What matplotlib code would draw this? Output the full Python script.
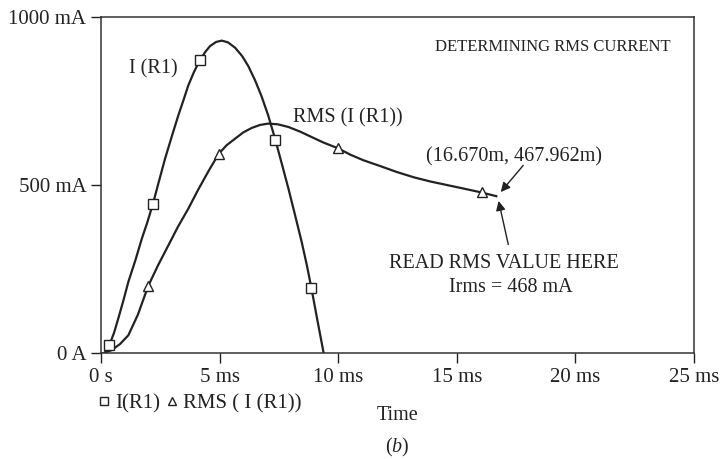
import matplotlib
matplotlib.use("Agg")
import matplotlib.pyplot as plt
from matplotlib.lines import Line2D

plt.rcParams['font.family'] = ['Liberation Serif', 'DejaVu Serif']
plt.rcParams['mathtext.fontset'] = 'custom'
plt.rcParams['mathtext.rm'] = 'Liberation Serif'
plt.rcParams['mathtext.it'] = 'Liberation Serif:italic'

# valores (tiempo en ms, corriente en mA)
t_i = [0.17, 0.35, 0.55, 0.75, 0.95, 1.15, 1.45, 1.72, 1.95, 2.19, 2.45, 2.70,
       3.00, 3.26, 3.48, 3.68, 3.92, 4.16, 4.40, 4.60, 4.85, 5.09, 5.35, 5.65,
       5.95, 6.21, 6.50, 6.77, 7.05, 7.35, 7.62, 7.90, 8.18, 8.46, 8.68, 8.87,
       9.12, 9.39]
i_r1 = [3, 25, 62, 110, 160, 213, 278, 342, 390, 446, 515, 580,
        650, 709, 755, 798, 838, 872, 898, 915, 927, 931, 926, 910,
        885, 855, 812, 765, 708, 636, 565, 491, 412, 332, 262, 195,
        100, 0]
t_i_mark = [0.35, 2.19, 4.16, 7.35, 8.87]
i_mark = [25, 446, 872, 636, 195]

t_rms = [0.1, 0.45, 0.8, 1.15, 1.55, 1.99, 2.4, 2.84, 3.25, 3.68, 4.1, 4.55,
         4.97, 5.3, 5.65, 6.0, 6.35, 6.7, 7.05, 7.45, 7.90, 8.4, 8.88, 9.4,
         9.98, 10.5, 11.06, 11.8, 12.47, 13.2, 13.87, 14.6, 15.27, 16.05, 16.67]
i_rms = [1, 10, 28, 54, 115, 201, 262, 322, 378, 431, 488, 545,
         595, 620, 639, 658, 671, 680, 684, 682, 674, 660, 644, 627,
         611, 592, 575, 557, 540, 524, 512, 501, 491, 479, 468]
t_rms_mark = [1.99, 4.97, 9.98, 16.05]
rms_mark = [201, 595, 611, 479]

x_ticks = [0, 5, 10, 15, 20, 25]
x_labels = ['0 s', '5 ms', '10 ms', '15 ms', '20 ms', '25 ms']
y_ticks = [0, 500, 1000]
y_labels = ['0 A', '500 mA', '1000 mA']

fig = plt.figure(figsize=(7.22, 4.59), dpi=100)
ax = fig.add_axes([0.140, 0.230, 0.821, 0.732])

ink = '#222222'
ax.plot(t_i, i_r1, color=ink, lw=1.6, solid_joinstyle='round')
ax.plot(t_rms, i_rms, color=ink, lw=1.6, solid_joinstyle='round')
ax.plot(t_i_mark, i_mark, ls='none', marker='s', ms=7, mfc='white', mec=ink, mew=1)
ax.plot(t_rms_mark, rms_mark, ls='none', marker='^', ms=7, mfc='white', mec=ink, mew=1)

ax.set_xlim(0, 25)
ax.set_ylim(0, 1000)
ax.set_xticks(x_ticks)
ax.set_xticklabels(x_labels)
ax.set_yticks(y_ticks)
ax.set_yticklabels(y_labels)
ax.tick_params(direction='out', length=7, width=1, labelsize=15, colors=ink)
for s in ax.spines.values():
    s.set_linewidth(1.1)
    s.set_color('#333333')

ax.set_xlabel('Time', fontsize=14.5, labelpad=14, color=ink)

fs = 14.5
ax.text(2.2, 848, 'I (R1)', fontsize=fs, ha='center', va='center', color=ink)
ax.text(8.1, 700, 'RMS (I (R1))', fontsize=fs, ha='left', va='center', color=ink)
ax.text(24.0, 911, 'DETERMINING RMS CURRENT', fontsize=12, ha='right', va='center', color=ink)
ax.text(17.4, 584, '(16.670m, 467.962m)', fontsize=fs, ha='center', va='center', color=ink)
ax.text(17.0, 268, 'READ RMS VALUE HERE', fontsize=fs, ha='center', va='center', color=ink)
ax.text(17.3, 197, 'Irms = 468 mA', fontsize=fs, ha='center', va='center', color=ink)

arrow = dict(arrowstyle='-|>', color=ink, lw=1, mutation_scale=14)
ax.annotate('', xy=(16.78, 474), xytext=(17.88, 566), arrowprops=arrow)
ax.annotate('', xy=(16.74, 462), xytext=(17.2, 316), arrowprops=arrow)

handles = [Line2D([], [], ls='none', marker='s', ms=6, mfc='white', mec=ink),
           Line2D([], [], ls='none', marker='^', ms=6, mfc='white', mec=ink)]
fig.legend(handles, ['I(R1)', 'RMS ( I (R1))'], loc='center left',
           bbox_to_anchor=(0.11, 0.12), ncol=2, frameon=False, fontsize=15,
           handlelength=0.6, handletextpad=0.2, columnspacing=0.3, labelcolor=ink)

fig.text(0.55, 0.026, '($b$)', fontsize=14.5, ha='center', va='center', color=ink)

fig.savefig('out.png', dpi=100)
